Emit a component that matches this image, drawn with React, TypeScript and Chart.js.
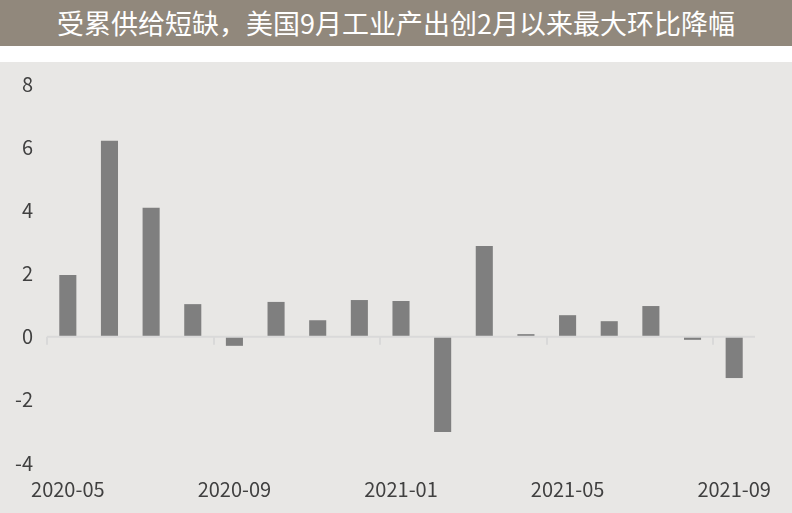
import { useEffect, useRef } from "react";
import {
  Chart,
  BarController,
  BarElement,
  CategoryScale,
  LinearScale,
} from "chart.js";

Chart.register(BarController, BarElement, CategoryScale, LinearScale);

const TITLE = "受累供给短缺，美国9月工业产出创2月以来最大环比降幅";

const months = [
  "2020-05", "2020-06", "2020-07", "2020-08", "2020-09", "2020-10",
  "2020-11", "2020-12", "2021-01", "2021-02", "2021-03", "2021-04",
  "2021-05", "2021-06", "2021-07", "2021-08", "2021-09",
];

// 美国工业产出环比 (%)
const ipMoM = [
  1.95, 6.2, 4.08, 1.03, -0.29, 1.1, 0.52, 1.16, 1.13,
  -3.02, 2.87, 0.08, 0.68, 0.49, 0.97, -0.1, -1.31,
];

const yTicks = [-4, -2, 0, 2, 4, 6, 8];

const FONT = "'Noto Sans CJK SC', 'Noto Sans', sans-serif";

// zero line with small ticks at every 4th category boundary
const zeroLine = {
  id: "zeroLine",
  afterDatasetsDraw(chart: any) {
    const { ctx, chartArea, scales } = chart;
    const x = scales.x, y = scales.y;
    const y0 = y.getPixelForValue(0);
    const step = x.getPixelForValue(1) - x.getPixelForValue(0);
    ctx.save();
    ctx.strokeStyle = "#d9d9d9";
    ctx.lineWidth = 2;
    ctx.beginPath();
    ctx.moveTo(chartArea.left, y0);
    ctx.lineTo(chartArea.right, y0);
    for (let i = 0; i < months.length; i += 4) {
      const xx = Math.round(x.getPixelForValue(i) - step / 2);
      ctx.moveTo(xx, y0);
      ctx.lineTo(xx, y0 + 8);
    }
    ctx.stroke();
    ctx.restore();
  },
};

export default function App() {
  const canvasRef = useRef<HTMLCanvasElement>(null);

  useEffect(() => {
    if (!canvasRef.current) return;
    const chart = new Chart(canvasRef.current, {
      type: "bar",
      data: {
        labels: months,
        datasets: [{
          data: ipMoM,
          backgroundColor: "#7f7f7f",
          borderWidth: 0,
          barPercentage: 0.41,
          categoryPercentage: 1,
        }],
      },
      options: {
        animation: false,
        responsive: true,
        maintainAspectRatio: false,
        layout: { padding: { top: 22, right: 37, bottom: 0, left: 0 } },
        plugins: { legend: { display: false }, tooltip: { enabled: false } },
        scales: {
          x: {
            grid: { display: false, drawTicks: false },
            border: { display: false },
            ticks: {
              autoSkip: false,
              maxRotation: 0,
              padding: 14,
              color: "#404040",
              font: { family: FONT, size: 20 },
              callback: (_v, i) => (i % 4 === 0 ? months[i] : ""),
            },
            afterFit: (s: any) => { s.height = 50; s.paddingLeft = 0; s.paddingRight = 0; },
          },
          y: {
            min: yTicks[0],
            max: yTicks[yTicks.length - 1],
            afterBuildTicks: (s: any) => { s.ticks = yTicks.map(v => ({ value: v })); },
            grid: { display: false, drawTicks: false },
            border: { display: false },
            ticks: {
              padding: 14,
              color: "#404040",
              font: { family: FONT, size: 20 },
            },
            afterFit: (s: any) => { s.width = 47; s.paddingTop = 0; s.paddingBottom = 0; },
          },
        },
      },
      plugins: [zeroLine],
    });
    return () => { chart.destroy(); };
  }, []);

  return (
    <div style={{ position: "absolute", left: 0, top: 0, width: 792, height: 513, background: "#fff" }}>
      <div style={{
        height: 46, lineHeight: "46px", background: "#91887c", color: "#fff",
        textAlign: "center", fontFamily: FONT, fontSize: 27,
      }}>{TITLE}</div>
      <div style={{ position: "absolute", top: 62, left: 0, width: 792, height: 451, background: "#e8e7e5" }}>
        <canvas ref={canvasRef} />
      </div>
    </div>
  );
}
